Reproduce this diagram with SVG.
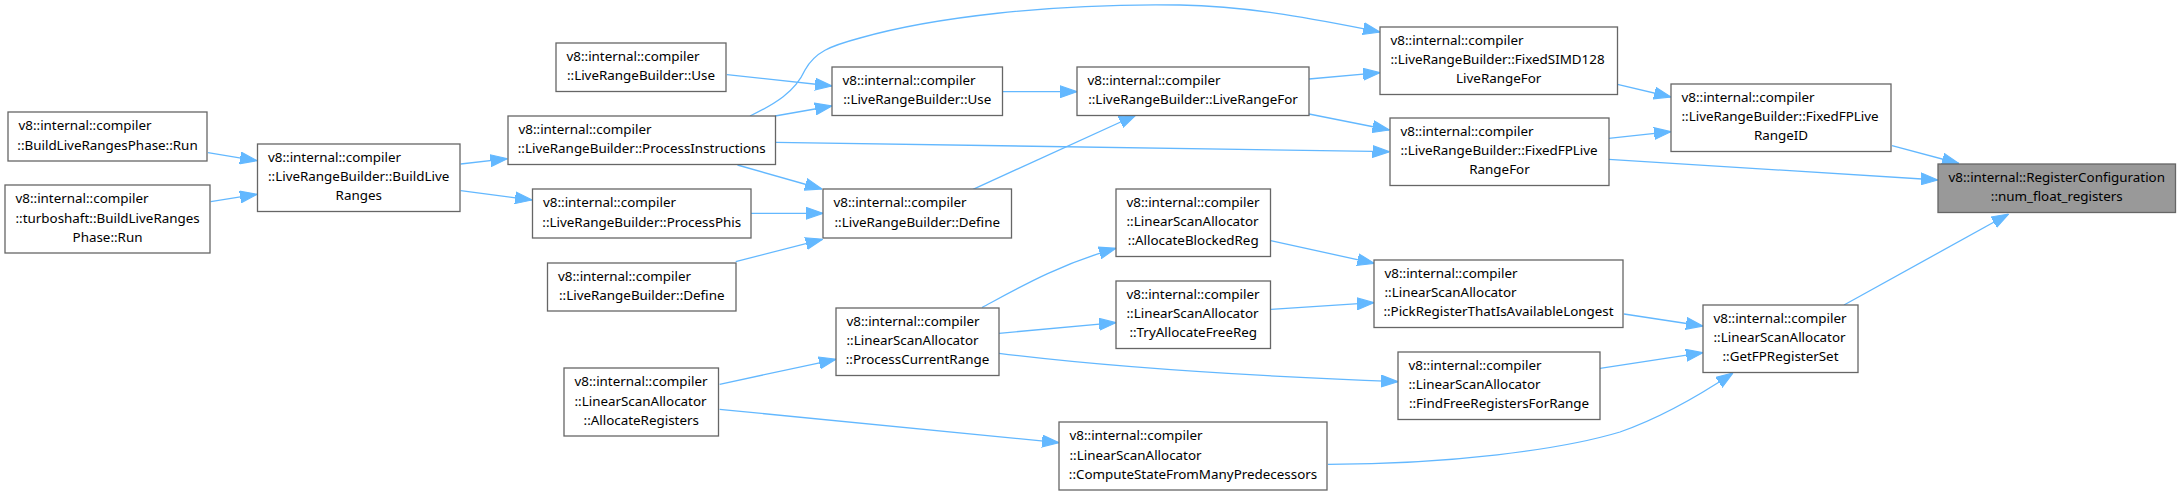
<svg xmlns="http://www.w3.org/2000/svg" width="2180" height="496" viewBox="0 0 2180 496">
<defs>
<style>
.n rect{fill:#fff;stroke:#666;stroke-width:1.3}
.t rect{fill:#999;stroke:#666;stroke-width:1.3}
text{font-family:"Noto Sans","Open Sans","DejaVu Sans",sans-serif;font-size:13.4px;fill:#000}
.c{text-anchor:middle}
.e path{fill:none;stroke:#63b8ff;stroke-width:1.3;marker-end:url(#ah)}
</style>
<marker id="ah" markerUnits="userSpaceOnUse" markerWidth="17" markerHeight="13" refX="15" refY="5.25" orient="auto" viewBox="0 0 15 10.5">
<path d="M0,0 L15,5.25 L0,10.5 z" fill="#63b8ff" stroke="#63b8ff" stroke-width="1"/>
</marker>
</defs>
<rect width="2180" height="496" fill="#fff"/>
<g id="edges" class="e">
<path d="M208,152.7 L257,160.7"/>
<path d="M210.7,201.7 L257,194.3"/>
<path d="M460.7,164 L507.5,158.7"/>
<path d="M460.7,190.7 L532,200"/>
<path d="M727,74.7 L832,86"/>
<path d="M775,116 L832,106"/>
<path d="M750,116 C775,104 795,92 805,70 C815,52 830,46 860,38 C930,18 1050,3 1180,5 C1250,6 1320,20 1380,32"/>
<path d="M775.5,142.3 C1000,145 1200,149 1389.5,151.7"/>
<path d="M737.5,165 L822,189"/>
<path d="M751,213.3 L823,213.3"/>
<path d="M735.7,261.7 L822.5,239.3"/>
<path d="M973,189.3 L1136,115"/>
<path d="M1002.5,91.7 L1077,91.7"/>
<path d="M1309,79 L1380,72.7"/>
<path d="M1309,114 L1389.5,130"/>
<path d="M1617.5,84.3 L1671,97"/>
<path d="M1608.7,138.3 L1671,131.7"/>
<path d="M1892,145.7 L1959,163.5"/>
<path d="M1608.7,159.3 L1938,180"/>
<path d="M1844,305 L2008.6,214"/>
<path d="M982,307.5 C1020,287 1060,264 1116,248.3"/>
<path d="M999,333.3 L1116,322.7"/>
<path d="M999,353.3 C1100,366 1250,376 1398,381.7"/>
<path d="M1270.6,240.7 L1374.3,263.3"/>
<path d="M1271,309.3 L1374,302.7"/>
<path d="M1624,314 L1703,326"/>
<path d="M1600,368.3 L1703,352.7"/>
<path d="M719.6,384.3 L836,359.3"/>
<path d="M719.6,409.3 L1059,442.7"/>
<path d="M1328,464.3 C1450,464 1560,450 1620,432 C1660,418 1700,395 1733,373"/>
</g>
<g id="n1" class="n"><rect x="8" y="112" width="199" height="49"/><text x="18.5" y="130.4">v8::internal::compiler</text><text class="c" x="107.5" y="149.6">::BuildLiveRangesPhase::Run</text></g>
<g id="n2" class="n"><rect x="5" y="185" width="205" height="68"/><text x="15.5" y="203.3">v8::internal::compiler</text><text x="15.5" y="222.5">::turboshaft::BuildLiveRanges</text><text class="c" x="107.5" y="241.7">Phase::Run</text></g>
<g id="n3" class="n"><rect x="257.5" y="144" width="202.5" height="67.5"/><text x="268" y="162.05">v8::internal::compiler</text><text x="268" y="181.25">::LiveRangeBuilder::BuildLive</text><text class="c" x="358.75" y="200.45">Ranges</text></g>
<g id="n4" class="n"><rect x="556" y="43" width="170" height="48.5"/><text x="566.5" y="61.15">v8::internal::compiler</text><text class="c" x="641" y="80.35">::LiveRangeBuilder::Use</text></g>
<g id="n5" class="n"><rect x="508" y="116" width="267.5" height="48.5"/><text x="518.5" y="134.15">v8::internal::compiler</text><text class="c" x="641.75" y="153.35">::LiveRangeBuilder::ProcessInstructions</text></g>
<g id="n6" class="n"><rect x="532.5" y="189" width="218.5" height="49"/><text x="543" y="207.4">v8::internal::compiler</text><text class="c" x="641.75" y="226.6">::LiveRangeBuilder::ProcessPhis</text></g>
<g id="n7" class="n"><rect x="547.5" y="263" width="188.5" height="48"/><text x="558" y="280.9">v8::internal::compiler</text><text class="c" x="641.75" y="300.1">::LiveRangeBuilder::Define</text></g>
<g id="n8" class="n"><rect x="564" y="368" width="154.5" height="68"/><text x="574.5" y="386.3">v8::internal::compiler</text><text x="574.5" y="405.5">::LinearScanAllocator</text><text class="c" x="641.25" y="424.7">::AllocateRegisters</text></g>
<g id="n9" class="n"><rect x="832" y="67" width="170.5" height="48.5"/><text x="842.5" y="85.15">v8::internal::compiler</text><text class="c" x="917.25" y="104.35">::LiveRangeBuilder::Use</text></g>
<g id="n10" class="n"><rect x="823" y="189" width="188.5" height="49"/><text x="833.5" y="207.4">v8::internal::compiler</text><text class="c" x="917.25" y="226.6">::LiveRangeBuilder::Define</text></g>
<g id="n11" class="n"><rect x="836" y="308" width="163" height="67.5"/><text x="846.5" y="326.05">v8::internal::compiler</text><text x="846.5" y="345.25">::LinearScanAllocator</text><text class="c" x="917.5" y="364.45">::ProcessCurrentRange</text></g>
<g id="n12" class="n"><rect x="1077" y="67" width="232" height="48.5"/><text x="1087.5" y="85.15">v8::internal::compiler</text><text class="c" x="1193" y="104.35">::LiveRangeBuilder::LiveRangeFor</text></g>
<g id="n13" class="n"><rect x="1116" y="189" width="154.5" height="67.5"/><text x="1126.5" y="207.05">v8::internal::compiler</text><text x="1126.5" y="226.25">::LinearScanAllocator</text><text class="c" x="1193.25" y="245.45">::AllocateBlockedReg</text></g>
<g id="n14" class="n"><rect x="1116" y="281" width="154.5" height="67.5"/><text x="1126.5" y="299.05">v8::internal::compiler</text><text x="1126.5" y="318.25">::LinearScanAllocator</text><text class="c" x="1193.25" y="337.45">::TryAllocateFreeReg</text></g>
<g id="n15" class="n"><rect x="1059" y="422" width="268" height="68"/><text x="1069.5" y="440.3">v8::internal::compiler</text><text x="1069.5" y="459.5">::LinearScanAllocator</text><text class="c" x="1193" y="478.7">::ComputeStateFromManyPredecessors</text></g>
<g id="n16" class="n"><rect x="1380" y="27" width="237.5" height="67.5"/><text x="1390.5" y="45.05">v8::internal::compiler</text><text x="1390.5" y="64.25">::LiveRangeBuilder::FixedSIMD128</text><text class="c" x="1498.75" y="83.45">LiveRangeFor</text></g>
<g id="n17" class="n"><rect x="1390" y="118" width="219" height="67.5"/><text x="1400.5" y="136.05">v8::internal::compiler</text><text x="1400.5" y="155.25">::LiveRangeBuilder::FixedFPLive</text><text class="c" x="1499.5" y="174.45">RangeFor</text></g>
<g id="n18" class="n"><rect x="1374" y="260" width="249" height="67.5"/><text x="1384.5" y="278.05">v8::internal::compiler</text><text x="1384.5" y="297.25">::LinearScanAllocator</text><text class="c" x="1498.5" y="316.45">::PickRegisterThatIsAvailableLongest</text></g>
<g id="n19" class="n"><rect x="1398" y="352" width="202" height="67.5"/><text x="1408.5" y="370.05">v8::internal::compiler</text><text x="1408.5" y="389.25">::LinearScanAllocator</text><text class="c" x="1499" y="408.45">::FindFreeRegistersForRange</text></g>
<g id="n20" class="n"><rect x="1671" y="84" width="220" height="67.5"/><text x="1681.5" y="102.05">v8::internal::compiler</text><text x="1681.5" y="121.25">::LiveRangeBuilder::FixedFPLive</text><text class="c" x="1781" y="140.45">RangeID</text></g>
<g id="n21" class="n"><rect x="1703" y="305" width="155" height="67.5"/><text x="1713.5" y="323.05">v8::internal::compiler</text><text x="1713.5" y="342.25">::LinearScanAllocator</text><text class="c" x="1780.5" y="361.45">::GetFPRegisterSet</text></g>
<g id="n22" class="t"><rect x="1938" y="164" width="237.5" height="48.5"/><text x="1948.5" y="182.15">v8::internal::RegisterConfiguration</text><text class="c" x="2056.75" y="201.35">::num_float_registers</text></g>
</svg>
